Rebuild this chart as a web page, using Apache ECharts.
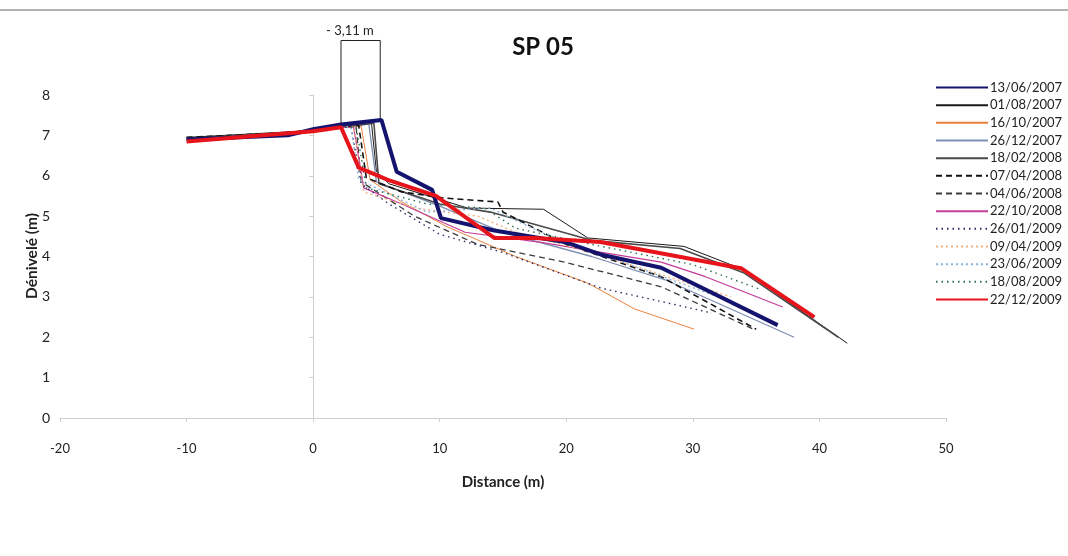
<!DOCTYPE html>
<html><head><meta charset="utf-8">
<script src="https://cdn.jsdelivr.net/npm/echarts@6/dist/echarts.min.js"></script>
<style>html,body{margin:0;padding:0;background:#fff}#c{width:1068px;height:556px}</style>
</head><body><div id="c"></div>
<script>
const xTicks = [-20,-10,0,10,20,30,40,50];
const yTicks = [0,1,2,3,4,5,6,7,8];
const dates = ['13/06/2007','01/08/2007','16/10/2007','26/12/2007','18/02/2008','07/04/2008','04/06/2008','22/10/2008','26/01/2009','09/04/2009','23/06/2009','18/08/2009','22/12/2009'];

const s20070613 = [[-10,6.9],[-2,7.0],[0,7.15],[2.2,7.27],[5.4,7.38],[6.6,6.1],[9.4,5.65],[10.1,4.95],[14.2,4.65],[20,4.35],[22.7,4.05],[27.5,3.72],[36.7,2.3]];
const s20070801 = [[-10,6.95],[0,7.12],[2.2,7.2],[4.6,7.33],[5.0,6.1],[6,5.8],[12.2,5.2],[18.2,5.17],[21.7,4.46],[29.3,4.25],[33.8,3.7],[42.2,1.85]];
const s20071016 = [[-10,6.9],[0,7.1],[2.2,7.2],[3.8,7.22],[4.5,5.9],[7,5.35],[10.5,4.75],[16,4.0],[21.7,3.34],[25.4,2.7],[30.1,2.2]];
const s20071226 = [[-10,6.9],[0,7.1],[2.2,7.2],[4.4,7.28],[5.0,5.85],[10,5.25],[15,4.6],[22,4.0],[28,3.4],[38,2.0]];
const s20080218 = [[-10,6.92],[0,7.1],[2.2,7.2],[4.8,7.3],[5.2,5.8],[10,5.3],[14,5.1],[22,4.4],[29,4.2],[34,3.6],[41.5,2.0]];
const s20080407 = [[-10,6.95],[-3,7.05],[0,7.12],[2.2,7.2],[3.6,7.25],[4.2,5.95],[7,5.6],[10.3,5.45],[14.6,5.35],[15,5.1],[20,4.3],[27.5,3.5],[35,2.2]];
const s20080604 = [[-10,6.93],[0,7.1],[2.2,7.2],[3.4,7.2],[3.8,5.85],[8,5.0],[13,4.3],[20,3.85],[27.5,3.25],[34.8,2.2]];
const s20081022 = [[-10,6.9],[0,7.1],[2.2,7.2],[3.2,7.2],[4,5.7],[7,5.3],[12,4.6],[18,4.35],[27.5,3.86],[31,3.5],[37.1,2.75]];
const s20090126 = [[-10,6.9],[0,7.1],[2.2,7.2],[3,7.2],[3.8,5.8],[6,5.3],[10,4.55],[15,4.1],[22.7,3.22],[28,2.85],[31.5,2.6]];
const s20090409 = [[-10,6.9],[0,7.1],[2.2,7.2],[3.2,7.2],[4,5.6],[8,5.2],[13,5.0],[16,4.6],[22,4.1],[28,3.5],[33,3.0]];
const s20090623 = [[-10,6.9],[0,7.1],[2.2,7.2],[3,7.2],[3.6,5.9],[9,5.1],[14,5.2],[18,4.6],[25,3.8],[32,3.0]];
const s20090818 = [[-10,6.9],[0,7.1],[2.2,7.2],[3.4,7.2],[4.2,5.7],[9,5.3],[13.5,5.2],[16,4.7],[22,4.3],[30,3.8],[35.2,3.2]];
const s20091222 = [[-10,6.85],[0,7.1],[2.2,7.2],[3.6,6.2],[5.9,5.9],[9.7,5.5],[14.3,4.46],[17.5,4.46],[22.7,4.36],[33.8,3.71],[39.6,2.5]];
const annotBracket = [[2.2,7.22],[2.2,9.35],[5.3,9.35],[5.3,7.38]];
const annotText = '- 3,11 m';
const yName = 'Dénivelé (m)';

const seriesData = [s20070613,s20070801,s20071016,s20071226,s20080218,s20080407,s20080604,s20081022,s20090126,s20090409,s20090623,s20090818,s20091222];
const styles = [
  {color:'#14146e', width:4, type:'solid'},
  {color:'#1a1a1a', width:1, type:'solid'},
  {color:'#e8823a', width:1, type:'solid'},
  {color:'#7d8fb4', width:1.3, type:'solid'},
  {color:'#4a4a4a', width:1.6, type:'solid'},
  {color:'#111111', width:1.6, type:[6,4]},
  {color:'#3c3c3c', width:1.3, type:[6,4]},
  {color:'#c23c98', width:1.2, type:'solid'},
  {color:'#2c2c6a', width:1.4, type:[1.5,4]},
  {color:'#f0b080', width:1.4, type:[2,3]},
  {color:'#8ab4d8', width:1.4, type:[2,3]},
  {color:'#2f6e50', width:1.4, type:[1.5,4]},
  {color:'#e8141c', width:4, type:'solid'}
];
const font = 'Lato, "Open Sans", sans-serif';
const series = dates.map((d,i)=>({
  name:d, type:'line', data:seriesData[i], symbol:'none', showSymbol:false, z: (i===0||i===12)?5:3,
  lineStyle:{color:styles[i].color, width:styles[i].width, type:styles[i].type},
  itemStyle:{color:styles[i].color}
}));
series.push({name:'annot', type:'line', data:annotBracket, symbol:'none', clip:false, silent:true,
  lineStyle:{color:'#222', width:1}, z:2});

const chart = echarts.init(document.getElementById('c'));
chart.setOption({
  animation:false,
  title:{text:'SP 05', left:538, top:30, textAlign:'center',
    textStyle:{fontFamily:'"Liberation Sans Narrow", Lato, sans-serif', fontWeight:'bold', fontSize:24, color:'#111'}},
  grid:{left:60, right:122, top:95, bottom:138, containLabel:false, outerBoundsMode:'none'},
  legend:{data:dates, orient:'vertical', left:930, top:76, itemWidth:52, itemHeight:14, itemGap:4.67,
    itemStyle:{opacity:0},
    textStyle:{fontFamily:font, fontSize:13, color:'#222', padding:[0,0,0,-3]}},
  xAxis:{type:'value', min:-20, max:50, interval:10,
    axisLine:{onZero:true, lineStyle:{color:'#cfcfcf', width:1}},
    axisTick:{show:true, length:4, lineStyle:{color:'#cfcfcf'}},
    splitLine:{show:false},
    axisLabel:{margin:24, fontFamily:font, fontSize:13, color:'#222'},
    name:'Distance (m)', nameLocation:'middle', nameGap:57,
    nameTextStyle:{fontFamily:font, fontSize:15, fontWeight:'bold', color:'#222'}},
  yAxis:{type:'value', min:0, max:8, interval:1,
    axisLine:{show:true, onZero:true, lineStyle:{color:'#cfcfcf', width:1}},
    axisTick:{show:true, length:4, lineStyle:{color:'#cfcfcf'}},
    splitLine:{show:false},
    axisLabel:{margin:10, fontFamily:font, fontSize:14, color:'#222'}},
  graphic:[
    {type:'line', shape:{x1:0,y1:10,x2:1068,y2:10}, style:{stroke:'#9a9a9a', lineWidth:1.5}},
    {type:'text', left:326, top:24, style:{text:annotText, fontFamily:'"Liberation Sans Narrow", Lato, sans-serif', fontSize:13, fill:'#222'}},
    {type:'text', x:32, y:256, rotation:Math.PI/2,
      style:{text:yName, align:'center', verticalAlign:'middle', fontFamily:font, fontSize:15.5, fontWeight:'bold', fill:'#222'}}
  ],
  series:series
});
</script></body></html>
